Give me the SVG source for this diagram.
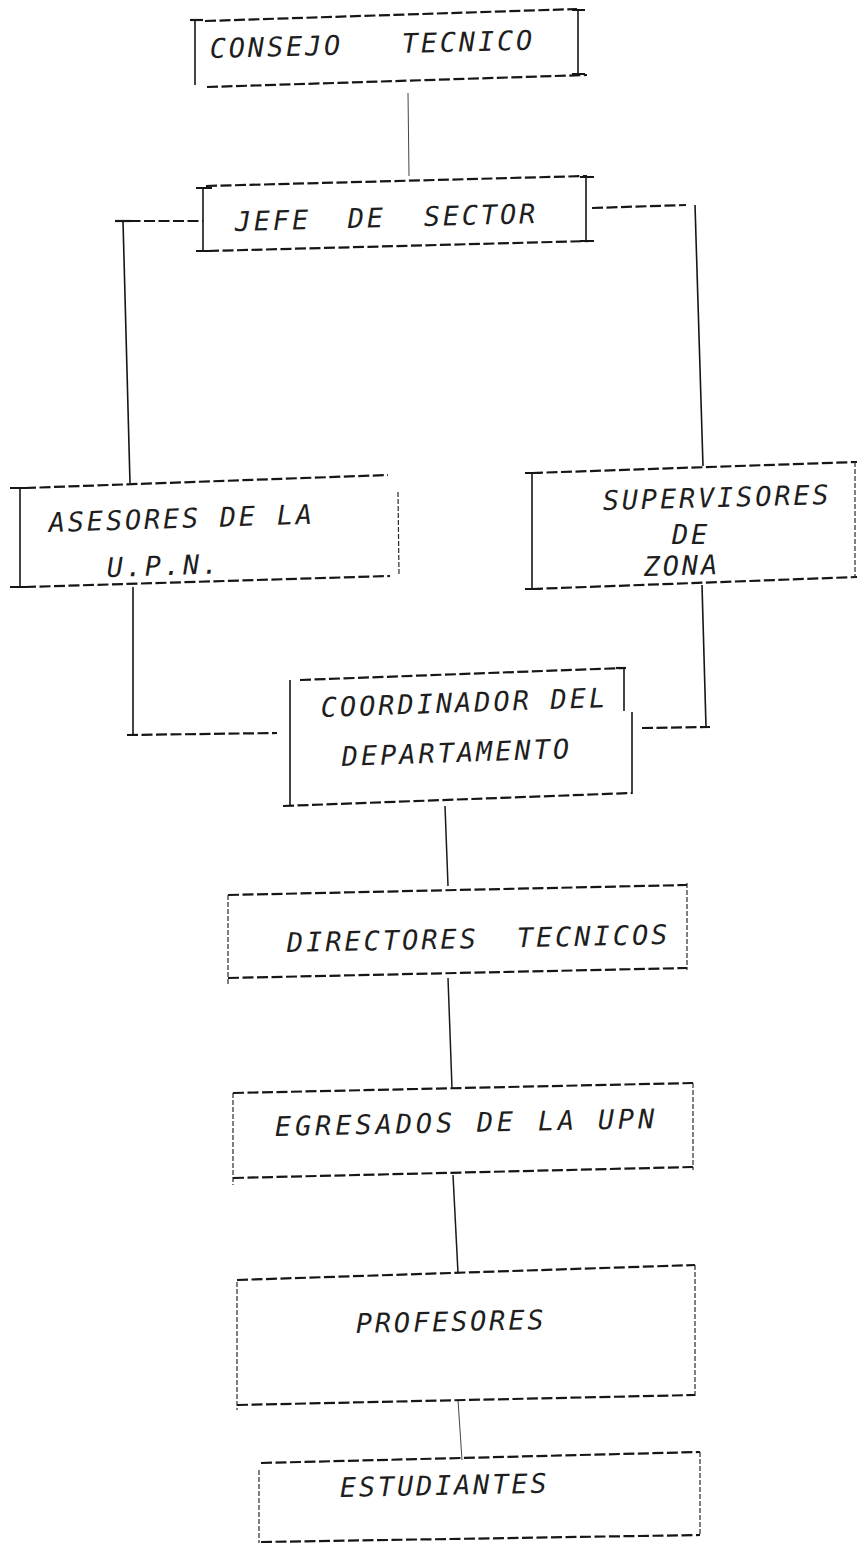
<svg xmlns="http://www.w3.org/2000/svg" width="858" height="1543" viewBox="0 0 858 1543">
<style>
.bg{fill:#ffffff}
.dash{fill:none;stroke:#161616;stroke-width:2.2;stroke-dasharray:11 3.5}
.vs{fill:none;stroke:#161616;stroke-width:1.6}
.vd{fill:none;stroke:#2a2a2a;stroke-width:1.2;stroke-dasharray:5 2}
.tick{fill:none;stroke:#161616;stroke-width:2.2}
.conn{fill:none;stroke:#1a1a1a;stroke-width:1.5}
.thin{fill:none;stroke:#444;stroke-width:1}
.t{font-family:"DejaVu Sans Mono","Liberation Mono",monospace;font-style:italic;font-size:27px;letter-spacing:2.8px;fill:#1e1e1e}
.w{letter-spacing:2.95px}
.x{letter-spacing:3.9px}
</style>
<rect class="bg" x="0" y="0" width="858" height="1543"/>

<g id="connectors">
  <path class="thin" d="M408,93 L409,176"/>
  <path class="dash" d="M115,221 L203,221"/>
  <path class="vs" d="M123,221 L130,483"/>
  <path class="tick" d="M115,221 L131,221"/>
  <path class="dash" d="M592,208 L686,205"/>
  <path class="vs" d="M695,205 L703,466"/>
  <path class="vs" d="M133,587 L133,735"/>
  <path class="dash" d="M127,735 L277,733"/>
  <path class="vs" d="M702,585 L706,727"/>
  <path class="dash" d="M642,728 L710,727"/>
  <path class="conn" d="M445,806 L448,886"/>
  <path class="conn" d="M448,978 L452,1088"/>
  <path class="conn" d="M453,1175 L458,1273"/>
  <path class="thin" d="M458,1400 L462,1460"/>
</g>

<g id="consejo-tecnico">
  <path class="dash" d="M205,21 L577,9"/>
  <path class="dash" d="M207,87 L587,75"/>
  <path class="vs" d="M195,20 L195,85"/>
  <path class="tick" d="M190,20 L203,20"/>
  <path class="vs" d="M578,10 L578,74"/>
  <path class="tick" d="M572,10 L585,10 M572,74 L585,74"/>
  <text class="t" transform="rotate(-1.5 210 58)"><tspan x="210" y="58">CONSEJO</tspan><tspan x="402" y="58">TECNICO</tspan></text>
</g>

<g id="jefe-de-sector">
  <path class="dash" d="M206,186 L587,176"/>
  <path class="dash" d="M208,251 L590,241"/>
  <path class="vs" d="M203,188 L203,251"/>
  <path class="tick" d="M196,188 L212,188 M196,251 L212,251"/>
  <path class="vs" d="M586,177 L586,241"/>
  <path class="tick" d="M580,177 L594,177 M580,241 L594,241"/>
  <text class="t" transform="rotate(-1.5 235 231)"><tspan x="235" y="231">JEFE</tspan><tspan x="348" y="231">DE</tspan><tspan x="424" y="231">SECTOR</tspan></text>
</g>

<g id="asesores-upn">
  <path class="dash" d="M25,488 L388,475"/>
  <path class="dash" d="M25,587 L390,576"/>
  <path class="vs" d="M20,488 L20,587"/>
  <path class="tick" d="M10,488 L28,488 M10,587 L28,587"/>
  <path class="vd" d="M398,492 L399,575"/>
  <text class="t" transform="rotate(-1.8 49 532)"><tspan x="49" y="532">ASESORES</tspan><tspan x="220" y="532">DE</tspan><tspan x="277" y="532">LA</tspan></text>
  <text class="t" transform="rotate(-1.8 107 577)"><tspan x="107" y="577">U.P.N.</tspan></text>
</g>

<g id="supervisores-de-zona">
  <path class="dash" d="M532,473 L857,462"/>
  <path class="dash" d="M532,589 L857,577"/>
  <path class="vs" d="M532,473 L532,589"/>
  <path class="tick" d="M525,473 L541,473 M525,589 L541,589"/>
  <path class="vd" d="M855,462 L855,578"/>
  <text class="t" transform="rotate(-1.5 603 510)"><tspan x="603" y="510">SUPERVISORES</tspan></text>
  <text class="t"><tspan x="672" y="544">DE</tspan></text>
  <text class="t" transform="rotate(-1.5 644 576)"><tspan x="644" y="576">ZONA</tspan></text>
</g>

<g id="coordinador-del-departamento">
  <path class="dash" d="M300,680 L624,668"/>
  <path class="vs" d="M624,668 L624,711"/>
  <path class="tick" d="M616,668 L626,668"/>
  <path class="vs" d="M632,712 L632,794"/>
  <path class="vs" d="M290,680 L290,805"/>
  <path class="dash" d="M283,806 L632,793"/>
  <text class="t w" transform="rotate(-2 321 717)"><tspan x="321" y="717">COORDINADOR</tspan><tspan x="551" y="717">DEL</tspan></text>
  <text class="t w" transform="rotate(-2 342 766)"><tspan x="342" y="766">DEPARTAMENTO</tspan></text>
</g>

<g id="directores-tecnicos">
  <path class="dash" d="M228,895 L687,885"/>
  <path class="dash" d="M228,978 L687,968"/>
  <path class="vd" d="M228,895 L228,985"/>
  <path class="vd" d="M687,883 L687,970"/>
  <text class="t w" transform="rotate(-1.2 287 952)"><tspan x="287" y="952">DIRECTORES</tspan><tspan x="517" y="952">TECNICOS</tspan></text>
</g>

<g id="egresados-upn">
  <path class="dash" d="M233,1093 L693,1083"/>
  <path class="dash" d="M233,1178 L693,1167"/>
  <path class="vd" d="M233,1093 L233,1185"/>
  <path class="vd" d="M693,1083 L693,1170"/>
  <text class="t x" transform="rotate(-1.2 275 1136)"><tspan x="275" y="1136">EGRESADOS</tspan><tspan x="477" y="1136">DE</tspan><tspan x="538" y="1136">LA</tspan><tspan x="598" y="1136">UPN</tspan></text>
</g>

<g id="profesores">
  <path class="dash" d="M237,1280 L695,1265"/>
  <path class="dash" d="M237,1405 L695,1395"/>
  <path class="vd" d="M237,1282 L237,1410"/>
  <path class="vd" d="M695,1265 L695,1397"/>
  <text class="t" transform="rotate(-1.2 356 1333)"><tspan x="356" y="1333">PROFESORES</tspan></text>
</g>

<g id="estudiantes">
  <path class="dash" d="M261,1463 L700,1452"/>
  <path class="dash" d="M261,1542 L700,1535"/>
  <path class="vd" d="M259,1470 L259,1543"/>
  <path class="vd" d="M700,1452 L700,1535"/>
  <text class="t" transform="rotate(-1.2 340 1497)"><tspan x="340" y="1497">ESTUDIANTES</tspan></text>
</g>
</svg>
